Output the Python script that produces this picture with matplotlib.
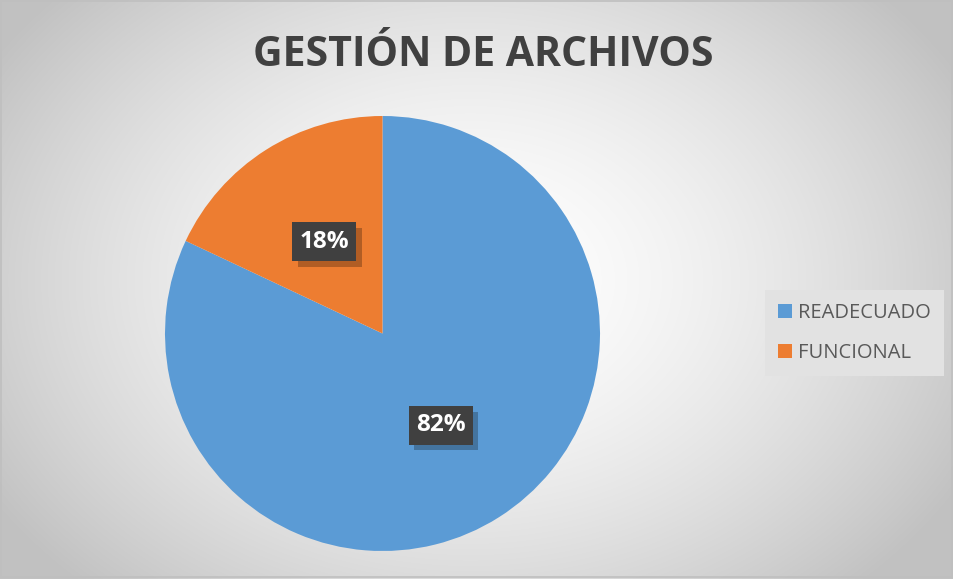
import numpy as np
import matplotlib
matplotlib.use("Agg")
import matplotlib.pyplot as plt
from matplotlib import patheffects as pe
from matplotlib.patches import Rectangle

title = "GESTIÓN DE ARCHIVOS"
categories = ["READECUADO", "FUNCIONAL"]
values = [82, 18]
colors = ["#5B9BD5", "#ED7D31"]

W, H = 954, 579
fig = plt.figure(figsize=(W / 100, H / 100), dpi=100)

# background radial gradient
bg = fig.add_axes([0, 0, 1, 1])
yy, xx = np.mgrid[0:H, 0:W]
cx, cy = 470, 280
d = np.sqrt(((xx - cx) / 560.0) ** 2 + ((yy - cy) / 420.0) ** 2)
d = np.clip(d, 0, 1)
g = 1.0 - 0.24 * d ** 1.6
bg.imshow(np.dstack([g, g, g]), extent=[0, W, H, 0], aspect="auto")
bg.add_patch(Rectangle((1, 1), W - 3, H - 3, fill=False, edgecolor="#bfbfbf", lw=1.2))
bg.set_xlim(0, W); bg.set_ylim(H, 0)
bg.axis("off")

fig.text(483 / W, 1 - 56 / H, title, ha="center", va="center",
         fontsize=29.5, fontweight="bold", color="#404040", family=["Open Sans", "DejaVu Sans"])

ax = fig.add_axes([165 / W, 28 / H, 435 / W, 435 / H])
wedges, _ = ax.pie(values, colors=colors, startangle=90, counterclock=False,
                   radius=1, wedgeprops=dict(linewidth=0))
ax.set_xlim(-1, 1); ax.set_ylim(-1, 1)
ax.set_aspect("equal")

cum = 0
for v in values:
    mid = 90 - (cum + v / 2) / sum(values) * 360
    cum += v
    r = 0.5
    x, y = r * np.cos(np.radians(mid)), r * np.sin(np.radians(mid))
    t = ax.text(x, y, f"{v}%", ha="center", va="center", color="white",
                fontsize=17.5, fontweight="bold", family=["Open Sans", "DejaVu Sans"],
                bbox=dict(boxstyle="square,pad=0.3", facecolor="#404040", edgecolor="none"))
    t.get_bbox_patch().set_path_effects([pe.SimplePatchShadow(offset=(4, -4), alpha=0.25, shadow_rgbFace="#000000"), pe.Normal()])

leg = fig.legend(wedges, categories, loc="center left", bbox_to_anchor=(755 / W, 1 - 333 / H),
                 frameon=True, handlelength=0.7, handleheight=0.7,
                 handletextpad=0.3, labelspacing=1.0, borderpad=0.65,
                 prop=dict(family=["Open Sans", "DejaVu Sans"], size=14.5))
leg.get_frame().set_facecolor("#e2e2e2")
leg.get_frame().set_edgecolor("none")
leg.get_frame().set_alpha(1)
leg.get_frame().set_boxstyle("square", pad=0)
for txt in leg.get_texts():
    txt.set_color("#595959")

fig.savefig("out.png", dpi=100)
